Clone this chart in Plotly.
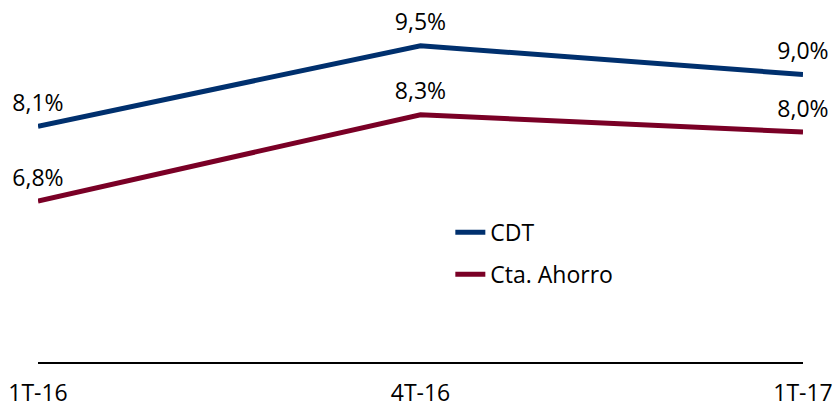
import plotly.graph_objects as go

categories = ["1T-16", "4T-16", "1T-17"]
cdt = [8.1, 9.5, 9.0]
ahorro = [6.8, 8.3, 8.0]

x = list(range(len(categories)))
font_family = "'Open Sans', sans-serif"

fig = go.Figure()
for name, vals, color, grp in [("CDT", cdt, "#00306E", "a"),
                               ("Cta. Ahorro", ahorro, "#7A0026", "b")]:
    fig.add_trace(go.Scatter(
        x=x, y=vals, name=name, mode="lines+markers+text",
        line=dict(color=color, width=5),
        marker=dict(size=14, color="rgba(0,0,0,0)"),
        texttemplate="%{y:.1f}%", textposition="top center",
        textfont=dict(size=23, color="#000000", family=font_family),
        cliponaxis=False, legendgroup=grp, hoverinfo="skip",
    ))

fig.update_layout(
    width=837, height=407,
    margin=dict(l=38, r=34, t=17, b=45, autoexpand=False),
    paper_bgcolor="white", plot_bgcolor="white",
    separators=",.",
    font=dict(family=font_family, size=23, color="#000000"),
    showlegend=True,
    legend=dict(x=0.539, y=0.438, xanchor="left", yanchor="top",
                bgcolor="rgba(0,0,0,0)", font=dict(size=23),
                tracegroupgap=9, traceorder="grouped",
                itemsizing="constant"),
    xaxis=dict(
        range=[0, 2], tickvals=x, ticktext=categories,
        showgrid=False, zeroline=False, showline=True,
        linecolor="#000000", linewidth=2, ticks="",
        tickfont=dict(size=23), ticklabelstandoff=9, automargin=False,
    ),
    yaxis=dict(range=[4, 10], visible=False, showgrid=False,
               zeroline=False, automargin=False),
)

fig.write_html("out.html", config={"displayModeBar": False},
               post_script="document.body.style.margin='0';")
